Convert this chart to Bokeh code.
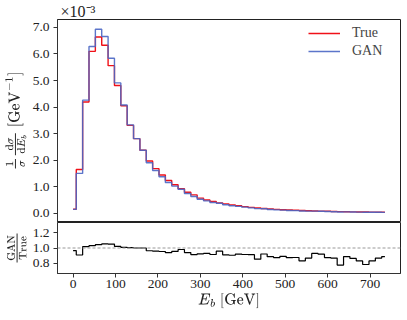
from bokeh.plotting import figure
from bokeh.layouts import column
from bokeh.models import Range1d, Span, Legend, LegendItem, FixedTicker, CustomJSTickFormatter
from bokeh.embed import file_html
from bokeh.resources import INLINE

# bin centres [GeV]
E_b = [0, 15, 30, 45, 60, 75, 90, 105, 120, 135,
       150, 165, 180, 195, 210, 225, 240, 255, 270, 285,
       300, 315, 330, 345, 360, 375, 390, 405, 420, 435,
       450, 465, 480, 495, 510, 525, 540, 555, 570, 585,
       600, 615, 630, 645, 660, 675, 690, 705, 720, 735]

# 1/sigma dsigma/dE_b in units of 1e-3 GeV^-1
true_vals = [0.15, 1.65, 4.19, 6.10, 6.64, 6.33, 5.56, 4.81, 4.05, 3.31,
             2.81, 2.37, 1.97, 1.68, 1.44, 1.23, 1.07, 0.92, 0.79, 0.69,
             0.57, 0.50, 0.44, 0.39, 0.35, 0.31, 0.28, 0.25, 0.22, 0.20,
             0.18, 0.16, 0.145, 0.13, 0.12, 0.11, 0.10, 0.09, 0.085, 0.078,
             0.072, 0.066, 0.061, 0.056, 0.052, 0.048, 0.045, 0.042, 0.039, 0.036]
gan_vals = [0.145, 1.50, 4.26, 6.28, 6.93, 6.66, 5.84, 4.91, 4.08, 3.33,
            2.81, 2.37, 1.90, 1.61, 1.375, 1.156, 1.022, 0.902, 0.743, 0.631,
            0.527, 0.465, 0.403, 0.374, 0.319, 0.281, 0.258, 0.229, 0.201, 0.171,
            0.166, 0.142, 0.127, 0.116, 0.105, 0.0965, 0.0834, 0.0783, 0.079, 0.0718,
            0.0631, 0.0574, 0.0475, 0.0498, 0.045, 0.040, 0.0354, 0.035, 0.0339, 0.032]
ratio = [g / t for g, t in zip(gan_vals, true_vals)]

x_ticks = [0, 100, 200, 300, 400, 500, 600, 700]
y_ticks_top = [0, 1, 2, 3, 4, 5, 6, 7]
y_ticks_bot = [0.8, 1.0, 1.2]

FONT = "Liberation Serif"
TRUE_COLOR = "#f01018"
GAN_COLOR = "#4a66c4"

x_range = Range1d(-36.75, 771.75)


def style(p):
    p.grid.visible = False
    p.outline_line_color = "#222222"
    p.outline_line_width = 1
    for ax in p.axis:
        ax.axis_line_color = "#333333"
        ax.major_tick_line_color = "#333333"
        ax.major_tick_out = 4
        ax.major_tick_in = 0
        ax.minor_tick_line_color = None
        ax.major_label_text_font = FONT
        ax.major_label_text_font_size = "13.5px"
        ax.major_label_text_color = "#222222"
        ax.axis_label_text_font = FONT
        ax.axis_label_text_font_style = "normal"
        ax.axis_label_text_color = "#222222"


p1 = figure(width=401, height=222, x_range=x_range, y_range=Range1d(-0.35, 7.3),
            output_backend="svg", toolbar_location=None,
            min_border_left=57, min_border_right=1, min_border_top=18, min_border_bottom=0)
r_true = p1.step(E_b, true_vals, mode="center", line_color=TRUE_COLOR, line_width=1.4)
r_gan = p1.step(E_b, gan_vals, mode="center", line_color=GAN_COLOR, line_width=1.4, line_alpha=0.9)
p1.xaxis.visible = False
p1.yaxis.ticker = FixedTicker(ticks=y_ticks_top)
p1.yaxis.formatter = CustomJSTickFormatter(code="return tick.toFixed(1);")
p1.yaxis.axis_label = r"$$\tfrac{1}{\sigma}\tfrac{\mathrm{d}\sigma}{\mathrm{d}E_b}\ [\mathrm{GeV}^{-1}]$$"
p1.yaxis.axis_label_text_font_size = "15px"
p1.yaxis.axis_label_standoff = 3
p1.yaxis.major_label_standoff = 4
style(p1)

p1.title.text = "×10⁻³"
p1.title.text_font = FONT
p1.title.text_font_size = "16px"
p1.title.text_font_style = "normal"
p1.title.text_color = "#222222"
p1.title.align = "left"
p1.title.offset = 3
p1.title.standoff = 0

legend = Legend(items=[LegendItem(label="True", renderers=[r_true]),
                       LegendItem(label="GAN", renderers=[r_gan])],
                location=(249, 161), border_line_alpha=0, background_fill_alpha=0,
                label_text_font=FONT, label_text_font_size="14px", glyph_width=32,
                glyph_height=14, label_height=14, spacing=2, margin=0, padding=2,
                label_standoff=12)
p1.add_layout(legend)

p2 = figure(width=401, height=97, x_range=x_range, y_range=Range1d(0.67, 1.33),
            output_backend="svg", toolbar_location=None,
            min_border_left=57, min_border_right=1, min_border_top=0, min_border_bottom=46)
p2.step(E_b, ratio, mode="center", line_color="black", line_width=1.2)
p2.add_layout(Span(location=1.0, dimension="width", line_color="#999999",
                   line_dash="3 2", line_width=1))
p2.xaxis.ticker = FixedTicker(ticks=x_ticks)
p2.yaxis.ticker = FixedTicker(ticks=y_ticks_bot)
p2.yaxis.formatter = CustomJSTickFormatter(code="return tick.toFixed(1);")
p2.xaxis.axis_label = r"$$E_b\ [\mathrm{GeV}]$$"
p2.xaxis.axis_label_text_font_size = "15px"
p2.yaxis.axis_label = r"$$\tfrac{\mathrm{GAN}}{\mathrm{True}}$$"
p2.yaxis.axis_label_text_font_size = "15px"
p2.yaxis.axis_label_standoff = 3
p2.yaxis.major_label_standoff = 4
p2.xaxis.axis_label_standoff = 2
p2.xaxis.major_label_standoff = 2
style(p2)

layout = column(p1, p2, spacing=0)
open("out.html", "w").write(file_html(layout, INLINE))
